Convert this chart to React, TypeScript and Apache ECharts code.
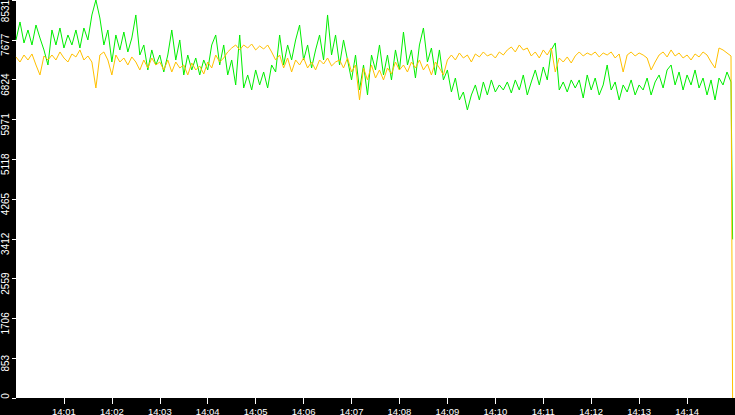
import React, { useEffect, useRef } from 'react';
import * as echarts from 'echarts';

// one sample every 5 seconds from 14:00:00, last sample is the drop at the end
const STEP_SEC = 5;
const END_SEC = 897;

const MINUTE_TICKS = [60, 120, 180, 240, 300, 360, 420, 480, 540, 600, 660, 720, 780, 840];
const MINUTE_LABELS = [
  '14:01', '14:02', '14:03', '14:04', '14:05', '14:06', '14:07',
  '14:08', '14:09', '14:10', '14:11', '14:12', '14:13', '14:14',
];

const Y_MAX = 8531;
const Y_STEP = 853.1;

const greenValues = [
  7674, 8060, 7610, 7888, 7567, 7995, 7717, 7460, 7138, 7888,
  7567, 7931, 7502, 7781, 7567, 7888, 7502, 7931, 7674, 8210,
  8531, 8145, 7567, 7888, 7202, 7781, 7460, 7845, 7417, 7717,
  8210, 7352, 7567, 7031, 7460, 7138, 7352, 6988, 7352, 7888,
  7245, 7674, 6924, 7352, 7031, 7288, 6924, 7245, 7031, 7567,
  7781, 7138, 7567, 6924, 7245, 6710, 7781, 6645, 6924, 6602,
  7031, 6710, 6988, 6645, 7138, 6988, 7781, 7138, 7567, 7245,
  7674, 7995, 7245, 7567, 7074, 7460, 7781, 7245, 8210, 7352,
  7781, 7138, 7674, 7245, 6817, 7352, 6602, 7138, 6495, 7352,
  7031, 7567, 6924, 7352, 6817, 7460, 7031, 7845, 7138, 7460,
  6859, 7567, 7931, 7202, 7502, 6924, 7460, 6817, 7031, 6559,
  6859, 6388, 6559, 6174, 6495, 6710, 6388, 6774, 6495, 6817,
  6559, 6710, 6602, 6774, 6538, 6817, 6602, 6924, 6495, 6774,
  7031, 6710, 7095, 6817, 7460, 7610, 6602, 6774, 6559, 6817,
  6645, 6817, 6431, 6924, 6602, 6859, 6495, 6710, 7138, 6602,
  6774, 6388, 6710, 6559, 6817, 6495, 6710, 6602, 6859, 6495,
  6774, 6924, 6645, 7031, 7138, 6710, 6988, 6602, 6924, 6710,
  7031, 6645, 6859, 6495, 6817, 6388, 6859, 6710, 6988, 6774,
];
const greenLast = 3400;

const yellowValues = [
  7310, 7202, 7352, 7245, 7374, 7138, 6924, 7331, 7245, 7352,
  7245, 7417, 7288, 7202, 7374, 7310, 7460, 7245, 7331, 7202,
  6645, 7352, 7417, 7245, 6924, 7352, 7202, 7288, 7138, 7310,
  7202, 7031, 7245, 7074, 7288, 7138, 7202, 7031, 7245, 6988,
  7202, 7074, 7138, 6924, 7181, 7031, 7117, 6945, 7202, 7074,
  7352, 7202, 7288, 7417, 7502, 7567, 7460, 7567, 7502, 7588,
  7460, 7545, 7481, 7567, 7417, 7245, 7352, 7074, 7288, 6988,
  7245, 7138, 7288, 7074, 7202, 7031, 7245, 7159, 7288, 7117,
  7202, 7245, 7074, 7288, 6988, 7138, 6388, 7074, 6817, 7138,
  6859, 7031, 6817, 7074, 6945, 7202, 7031, 7138, 6988, 7202,
  7074, 7245, 7031, 7159, 6924, 7202, 7074, 6924, 7245, 7352,
  7245, 7395, 7288, 7352, 7202, 7374, 7310, 7417, 7331, 7374,
  7288, 7417, 7352, 7460, 7524, 7417, 7567, 7460, 7502, 7331,
  7417, 7288, 7460, 7352, 7502, 6988, 7288, 7202, 7310, 7181,
  7331, 7417, 7331, 7395, 7352, 7417, 7310, 7395, 7352, 7417,
  7288, 7374, 6988, 7352, 7417, 7331, 7395, 7352, 7288, 7031,
  7202, 7352, 7417, 7310, 7460, 7331, 7395, 7288, 7352, 7245,
  7374, 7310, 7417, 7352, 7202, 7074, 7502, 7460, 7395, 7331,
];
const yellowLast = 0;

const GREEN = '#00ee00';
const YELLOW = '#ffc000';

function toPoints(values: number[], last: number) {
  const pts = values.map((v, i) => [i * STEP_SEC, v]);
  pts.push([END_SEC, last]);
  return pts;
}

export default function App() {
  const chartRef = useRef<HTMLDivElement>(null);

  useEffect(() => {
    if (!chartRef.current) return;
    const chart = echarts.init(chartRef.current, undefined, { renderer: 'svg' });

    const xFont = { color: '#ffffff', fontSize: 9.5, fontFamily: 'Liberation Sans' };
    const yFont = { color: '#ffffff', fontSize: 10, fontFamily: 'Liberation Sans' };

    const option = {
      animation: false,
      backgroundColor: '#000000',
      grid: {
        left: 16,
        right: 0,
        top: 0,
        bottom: 17,
        show: true,
        backgroundColor: '#ffffff',
        borderWidth: 0,
        outerBoundsMode: 'none',
      },
      xAxis: {
        type: 'value',
        min: 0,
        max: 900,
        interval: 60,
        axisLine: { show: false },
        splitLine: { show: false },
        axisTick: {
          show: true,
          length: 6,
          customValues: MINUTE_TICKS,
          lineStyle: { color: '#ffffff', width: 1 },
        },
        axisLabel: {
          ...xFont,
          margin: 8,
          customValues: MINUTE_TICKS,
          formatter: (v: number) => MINUTE_LABELS[Math.round(v / 60) - 1] ?? '',
        },
      },
      yAxis: {
        type: 'value',
        min: 0,
        max: Y_MAX,
        interval: Y_STEP,
        axisLine: { show: false },
        splitLine: { show: false },
        axisTick: {
          show: true,
          length: 4,
          lineStyle: { color: '#ffffff', width: 1 },
        },
        axisLabel: {
          ...yFont,
          rotate: 90,
          margin: 11,
          align: 'center',
          verticalAlign: 'middle',
          formatter: (v: number) => {
            const n = Math.floor(v + 1e-6);
            if (n === 0) return '{z|0}';
            if (n >= Y_MAX) return `{m|${n}}`;
            return `{n|${n}}`;
          },
          rich: {
            n: { ...yFont, padding: [0, 10, 0, 0] },
            m: { ...yFont, padding: [0, 22, 0, 0] },
            z: { ...yFont, padding: [0, 0, 0, 4] },
          },
        },
      },
      series: [
        {
          type: 'line',
          data: toPoints(greenValues, greenLast),
          showSymbol: false,
          lineStyle: { color: GREEN, width: 1 },
          itemStyle: { color: GREEN },
        },
        {
          type: 'line',
          data: toPoints(yellowValues, yellowLast),
          showSymbol: false,
          lineStyle: { color: YELLOW, width: 1 },
          itemStyle: { color: YELLOW },
        },
      ],
    };

    chart.setOption(option as echarts.EChartsOption);

    return () => {
      chart.dispose();
    };
  }, []);

  return (
    <div
      ref={chartRef}
      style={{ position: 'fixed', left: 0, top: 0, width: 735, height: 415 }}
    />
  );
}
